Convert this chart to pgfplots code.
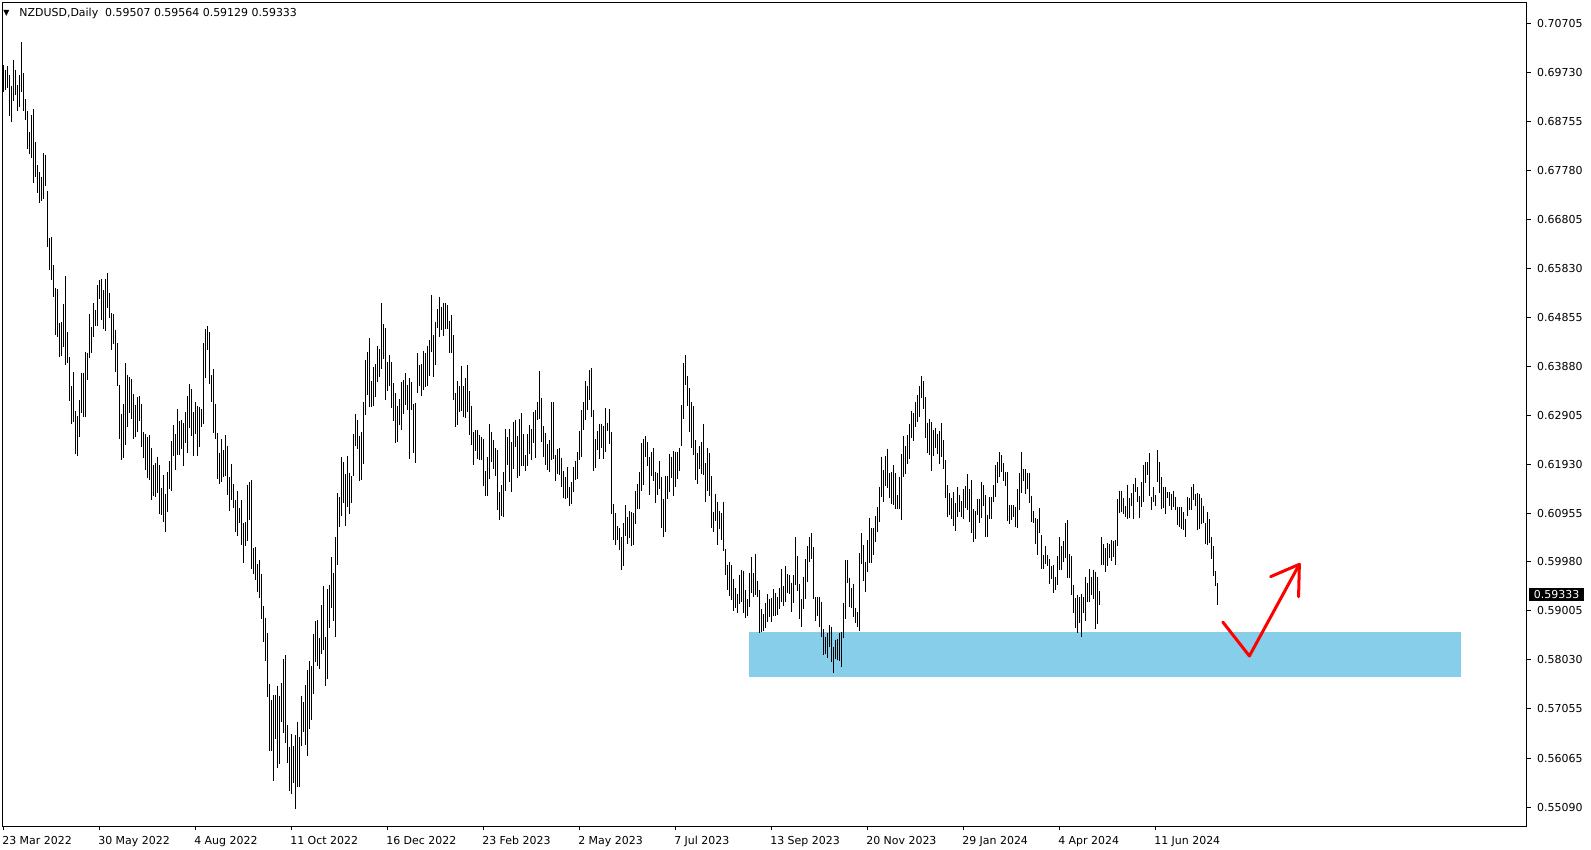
\documentclass[border=0pt]{standalone}
\usepackage{fontspec}
\setmainfont{DejaVu Sans}
\usepackage{pgfplots}
\usepackage{pgfplotstable}
\pgfplotsset{compat=1.18}
\definecolor{zone}{HTML}{87CEEB}
\pgfplotstableread{
h l
0.6989 0.6934
0.6979 0.6939
0.6987 0.6942
0.6969 0.6887
0.6947 0.6876
0.6999 0.6917
0.6979 0.6928
0.6949 0.6896
0.6969 0.6904
0.7034 0.6934
0.6972 0.6896
0.6920 0.6880
0.6897 0.6821
0.6856 0.6811
0.6889 0.6804
0.6901 0.6754
0.6835 0.6766
0.6789 0.6733
0.6775 0.6714
0.6766 0.6718
0.6813 0.6721
0.6809 0.6748
0.6738 0.6625
0.6643 0.6581
0.6645 0.6560
0.6590 0.6527
0.6544 0.6451
0.6542 0.6447
0.6475 0.6407
0.6477 0.6409
0.6512 0.6427
0.6568 0.6391
0.6456 0.6394
0.6407 0.6318
0.6348 0.6273
0.6377 0.6278
0.6298 0.6213
0.6289 0.6209
0.6321 0.6247
0.6375 0.6294
0.6374 0.6288
0.6417 0.6288
0.6415 0.6361
0.6492 0.6404
0.6467 0.6414
0.6514 0.6446
0.6500 0.6468
0.6550 0.6468
0.6560 0.6522
0.6563 0.6480
0.6540 0.6462
0.6563 0.6459
0.6575 0.6504
0.6535 0.6484
0.6494 0.6421
0.6492 0.6432
0.6461 0.6377
0.6434 0.6348
0.6351 0.6244
0.6293 0.6201
0.6313 0.6205
0.6394 0.6231
0.6371 0.6268
0.6367 0.6294
0.6362 0.6284
0.6333 0.6243
0.6311 0.6248
0.6326 0.6258
0.6328 0.6280
0.6313 0.6228
0.6258 0.6205
0.6254 0.6181
0.6248 0.6165
0.6251 0.6161
0.6225 0.6122
0.6191 0.6130
0.6195 0.6128
0.6208 0.6135
0.6191 0.6094
0.6145 0.6092
0.6171 0.6078
0.6134 0.6058
0.6178 0.6097
0.6199 0.6143
0.6239 0.6140
0.6271 0.6209
0.6253 0.6181
0.6303 0.6211
0.6279 0.6211
0.6281 0.6223
0.6276 0.6190
0.6296 0.6235
0.6329 0.6216
0.6353 0.6266
0.6342 0.6249
0.6296 0.6210
0.6316 0.6253
0.6309 0.6210
0.6306 0.6228
0.6302 0.6268
0.6435 0.6274
0.6462 0.6364
0.6468 0.6421
0.6456 0.6353
0.6371 0.6316
0.6383 0.6256
0.6313 0.6243
0.6256 0.6163
0.6216 0.6153
0.6243 0.6158
0.6221 0.6168
0.6251 0.6169
0.6230 0.6132
0.6168 0.6100
0.6193 0.6122
0.6153 0.6105
0.6122 0.6058
0.6140 0.6049
0.6105 0.6076
0.6122 0.6032
0.6076 0.5995
0.6078 0.6029
0.6152 0.6039
0.6157 0.6082
0.6161 0.5985
0.6025 0.5975
0.6027 0.5963
0.5994 0.5938
0.6002 0.5927
0.5975 0.5884
0.5910 0.5839
0.5887 0.5801
0.5857 0.5728
0.5755 0.5622
0.5723 0.5622
0.5733 0.5562
0.5733 0.5646
0.5751 0.5588
0.5731 0.5595
0.5756 0.5680
0.5805 0.5658
0.5813 0.5638
0.5673 0.5597
0.5630 0.5542
0.5655 0.5535
0.5632 0.5558
0.5653 0.5505
0.5680 0.5549
0.5650 0.5549
0.5731 0.5631
0.5718 0.5660
0.5753 0.5633
0.5783 0.5611
0.5801 0.5666
0.5791 0.5683
0.5854 0.5735
0.5880 0.5798
0.5882 0.5791
0.5846 0.5785
0.5912 0.5814
0.5951 0.5823
0.5849 0.5751
0.5944 0.5765
0.5953 0.5867
0.6007 0.5906
0.5977 0.5881
0.6047 0.5849
0.6135 0.5991
0.6128 0.6067
0.6208 0.6090
0.6198 0.6116
0.6173 0.6070
0.6210 0.6107
0.6176 0.6093
0.6169 0.6115
0.6253 0.6169
0.6292 0.6230
0.6281 0.6223
0.6250 0.6160
0.6258 0.6161
0.6316 0.6193
0.6401 0.6290
0.6417 0.6331
0.6444 0.6306
0.6359 0.6306
0.6387 0.6308
0.6392 0.6326
0.6429 0.6356
0.6423 0.6366
0.6515 0.6383
0.6472 0.6402
0.6465 0.6321
0.6397 0.6338
0.6411 0.6348
0.6397 0.6304
0.6354 0.6280
0.6334 0.6235
0.6309 0.6237
0.6322 0.6272
0.6357 0.6261
0.6361 0.6293
0.6375 0.6311
0.6350 0.6301
0.6364 0.6203
0.6356 0.6300
0.6313 0.6216
0.6314 0.6196
0.6414 0.6334
0.6391 0.6348
0.6392 0.6329
0.6419 0.6340
0.6415 0.6346
0.6429 0.6348
0.6441 0.6369
0.6530 0.6416
0.6451 0.6366
0.6477 0.6391
0.6502 0.6464
0.6527 0.6447
0.6506 0.6460
0.6515 0.6449
0.6514 0.6462
0.6510 0.6462
0.6479 0.6414
0.6490 0.6415
0.6450 0.6321
0.6334 0.6268
0.6359 0.6271
0.6349 0.6296
0.6389 0.6298
0.6348 0.6288
0.6364 0.6286
0.6391 0.6296
0.6338 0.6251
0.6309 0.6231
0.6258 0.6191
0.6261 0.6219
0.6261 0.6203
0.6251 0.6201
0.6248 0.6201
0.6243 0.6150
0.6180 0.6130
0.6207 0.6130
0.6274 0.6163
0.6258 0.6197
0.6241 0.6183
0.6226 0.6170
0.6221 0.6102
0.6138 0.6082
0.6151 0.6090
0.6177 0.6088
0.6263 0.6140
0.6247 0.6191
0.6264 0.6157
0.6237 0.6138
0.6278 0.6183
0.6281 0.6227
0.6249 0.6166
0.6283 0.6169
0.6294 0.6190
0.6253 0.6189
0.6211 0.6180
0.6254 0.6190
0.6271 0.6213
0.6264 0.6201
0.6297 0.6236
0.6300 0.6206
0.6316 0.6282
0.6379 0.6283
0.6324 0.6238
0.6269 0.6207
0.6256 0.6191
0.6233 0.6181
0.6241 0.6178
0.6316 0.6201
0.6316 0.6203
0.6211 0.6160
0.6223 0.6173
0.6226 0.6171
0.6206 0.6147
0.6180 0.6125
0.6168 0.6124
0.6188 0.6125
0.6148 0.6110
0.6158 0.6113
0.6188 0.6138
0.6200 0.6161
0.6218 0.6163
0.6260 0.6201
0.6300 0.6207
0.6316 0.6261
0.6359 0.6281
0.6349 0.6301
0.6381 0.6320
0.6384 0.6288
0.6301 0.6180
0.6243 0.6186
0.6260 0.6221
0.6273 0.6203
0.6273 0.6225
0.6269 0.6203
0.6304 0.6218
0.6276 0.6260
0.6302 0.6233
0.6258 0.6094
0.6114 0.6042
0.6095 0.6031
0.6070 0.6041
0.6065 0.6022
0.6048 0.5982
0.6076 0.5989
0.6112 0.6050
0.6088 0.6034
0.6100 0.6045
0.6098 0.6029
0.6096 0.6032
0.6140 0.6074
0.6153 0.6103
0.6178 0.6104
0.6236 0.6140
0.6243 0.6151
0.6249 0.6207
0.6238 0.6189
0.6207 0.6132
0.6218 0.6169
0.6225 0.6159
0.6178 0.6115
0.6176 0.6132
0.6200 0.6143
0.6168 0.6066
0.6123 0.6048
0.6170 0.6058
0.6169 0.6124
0.6213 0.6138
0.6208 0.6166
0.6220 0.6130
0.6217 0.6148
0.6218 0.6163
0.6226 0.6179
0.6310 0.6230
0.6395 0.6284
0.6411 0.6350
0.6369 0.6308
0.6344 0.6258
0.6316 0.6225
0.6308 0.6211
0.6241 0.6161
0.6216 0.6153
0.6230 0.6183
0.6237 0.6173
0.6273 0.6171
0.6195 0.6118
0.6226 0.6140
0.6216 0.6130
0.6169 0.6065
0.6098 0.6058
0.6134 0.6080
0.6118 0.6032
0.6100 0.6063
0.6095 0.6042
0.6118 0.6019
0.6024 0.5972
0.5992 0.5942
0.5997 0.5931
0.5992 0.5922
0.5965 0.5901
0.5947 0.5907
0.5934 0.5896
0.5972 0.5914
0.5983 0.5918
0.5981 0.5897
0.5942 0.5886
0.5924 0.5890
0.5977 0.5909
0.6007 0.5937
0.5977 0.5929
0.6014 0.5932
0.5961 0.5929
0.5942 0.5857
0.5904 0.5858
0.5894 0.5861
0.5917 0.5867
0.5934 0.5879
0.5924 0.5888
0.5927 0.5879
0.5944 0.5890
0.5937 0.5891
0.5929 0.5892
0.5947 0.5904
0.5984 0.5919
0.5950 0.5911
0.5989 0.5918
0.5974 0.5937
0.5972 0.5934
0.5957 0.5898
0.5972 0.5916
0.6048 0.5952
0.6009 0.5941
0.5955 0.5884
0.5924 0.5869
0.5969 0.5904
0.6004 0.5924
0.6029 0.5959
0.6048 0.5997
0.6056 0.6004
0.6027 0.5924
0.5928 0.5881
0.5928 0.5890
0.5928 0.5869
0.5919 0.5849
0.5864 0.5813
0.5849 0.5815
0.5857 0.5806
0.5872 0.5828
0.5869 0.5799
0.5829 0.5776
0.5842 0.5804
0.5844 0.5803
0.5857 0.5801
0.5859 0.5788
0.5917 0.5846
0.6001 0.5884
0.6002 0.5957
0.5967 0.5909
0.5947 0.5906
0.5954 0.5889
0.5906 0.5876
0.5899 0.5869
0.6015 0.5861
0.6055 0.5994
0.6031 0.5961
0.5997 0.5939
0.6042 0.5979
0.6086 0.5995
0.6065 0.5995
0.6066 0.6012
0.6090 0.6038
0.6108 0.6058
0.6148 0.6078
0.6208 0.6128
0.6181 0.6118
0.6209 0.6149
0.6224 0.6145
0.6175 0.6125
0.6177 0.6113
0.6191 0.6112
0.6175 0.6103
0.6132 0.6103
0.6168 0.6103
0.6213 0.6082
0.6249 0.6168
0.6229 0.6173
0.6251 0.6193
0.6273 0.6203
0.6299 0.6246
0.6294 0.6239
0.6316 0.6268
0.6331 0.6278
0.6349 0.6288
0.6369 0.6324
0.6359 0.6303
0.6326 0.6246
0.6276 0.6216
0.6284 0.6211
0.6278 0.6180
0.6261 0.6209
0.6266 0.6225
0.6253 0.6213
0.6259 0.6193
0.6276 0.6208
0.6241 0.6183
0.6201 0.6125
0.6151 0.6087
0.6136 0.6092
0.6126 0.6083
0.6137 0.6070
0.6116 0.6060
0.6148 0.6087
0.6132 0.6098
0.6120 0.6087
0.6143 0.6084
0.6149 0.6106
0.6173 0.6102
0.6143 0.6078
0.6161 0.6056
0.6104 0.6037
0.6100 0.6044
0.6124 0.6092
0.6123 0.6076
0.6157 0.6085
0.6151 0.6110
0.6132 0.6048
0.6092 0.6048
0.6128 0.6083
0.6127 0.6083
0.6151 0.6117
0.6191 0.6128
0.6198 0.6156
0.6217 0.6168
0.6211 0.6178
0.6195 0.6160
0.6177 0.6149
0.6178 0.6080
0.6112 0.6074
0.6112 0.6082
0.6112 0.6087
0.6108 0.6067
0.6143 0.6066
0.6176 0.6102
0.6217 0.6135
0.6183 0.6160
0.6183 0.6134
0.6175 0.6143
0.6176 0.6116
0.6130 0.6077
0.6100 0.6075
0.6085 0.6033
0.6083 0.6012
0.6106 0.6055
0.6052 0.5984
0.6012 0.5985
0.6030 0.5994
0.6012 0.5989
0.6004 0.5954
0.5989 0.5965
0.5992 0.5937
0.5969 0.5942
0.6010 0.5952
0.6047 0.5983
0.6030 0.5982
0.6039 0.5997
0.6076 0.6005
0.6082 0.5967
0.6013 0.5967
0.6009 0.5932
0.5953 0.5897
0.5926 0.5866
0.5932 0.5857
0.5929 0.5877
0.5934 0.5849
0.5929 0.5897
0.5969 0.5881
0.5957 0.5919
0.5984 0.5919
0.5969 0.5932
0.5983 0.5924
0.5979 0.5864
0.5969 0.5874
0.5940 0.5912
0.6047 0.5992
0.6033 0.5992
0.6025 0.5979
0.6035 0.5989
0.6034 0.6005
0.6042 0.5999
0.6040 0.6007
0.6041 0.5992
0.6124 0.6030
0.6140 0.6095
0.6140 0.6098
0.6125 0.6093
0.6110 0.6088
0.6152 0.6083
0.6125 0.6086
0.6136 0.6110
0.6153 0.6083
0.6166 0.6137
0.6147 0.6118
0.6130 0.6086
0.6158 0.6108
0.6191 0.6118
0.6198 0.6155
0.6197 0.6171
0.6215 0.6130
0.6128 0.6102
0.6148 0.6117
0.6132 0.6110
0.6221 0.6158
0.6197 0.6135
0.6168 0.6104
0.6147 0.6105
0.6147 0.6094
0.6138 0.6126
0.6138 0.6110
0.6133 0.6102
0.6140 0.6108
0.6128 0.6102
0.6107 0.6072
0.6107 0.6067
0.6108 0.6063
0.6098 0.6062
0.6083 0.6047
0.6128 0.6090
0.6125 0.6102
0.6148 0.6102
0.6154 0.6122
0.6133 0.6110
0.6135 0.6062
0.6133 0.6063
0.6125 0.6074
0.6110 0.6075
0.6076 0.6034
0.6098 0.6032
0.6083 0.6035
0.6047 0.6003
0.6029 0.5971
0.5980 0.5950
0.59564 0.59129
}\bars
\begin{document}
\begin{tikzpicture}
\begin{axis}[
  at={(0,0)}, anchor=south west,
  scale only axis, width=1524.7bp, height=823.3bp,
  xmin=-0.65, xmax=761.7, ymin=0.54717, ymax=0.71129,
  clip=false,
  axis line style={black, line width=1bp},
  tick style={black, line width=1bp},
  tick align=outside, major tick length=4bp,
  xtick={0,48,...,576},
  xticklabels={23 Mar 2022,30 May 2022,4 Aug 2022,11 Oct 2022,16 Dec 2022,23 Feb 2023,2 May 2023,7 Jul 2023,13 Sep 2023,20 Nov 2023,29 Jan 2024,4 Apr 2024,11 Jun 2024},
  xtick pos=left, xticklabel pos=left,
  ytick={0.70705,0.69730,0.68755,0.67780,0.66805,0.65830,0.64855,0.63880,0.62905,0.61930,0.60955,0.59980,0.59005,0.58030,0.57055,0.56065,0.55090},
  yticklabels={0.70705,0.69730,0.68755,0.67780,0.66805,0.65830,0.64855,0.63880,0.62905,0.61930,0.60955,0.59980,0.59005,0.58030,0.57055,0.56065,0.55090},
  ytick pos=right, yticklabel pos=right,
  xticklabel style={anchor=north west, inner sep=0pt, xshift=-1.5bp, yshift=-6bp, font=\fontsize{11}{13}\selectfont},
  yticklabel style={anchor=west, inner sep=0pt, xshift=6bp, font=\fontsize{11}{13}\selectfont},
]
\addplot[fill=zone, draw=none] coordinates {(372.7,0.57687) (728.7,0.57687) (728.7,0.58584) (372.7,0.58584)} -- cycle;
\addplot[draw=none, no markers,
  error bars/.cd, y dir=minus, y explicit, error mark=none,
  error bar style={draw=black, line width=1bp}]
  table[x expr=\coordindex, y=h, y error minus expr={\thisrow{h}-\thisrow{l}}] {\bars};
\addplot[red, line width=3bp, line join=round, line cap=round] coordinates {(609.6,0.58783) (622.9,0.58106) (647.9,0.59934)};
\addplot[red, line width=3bp, line join=round, line cap=round] coordinates {(633.5,0.59687) (647.9,0.59934) (647.5,0.59288)};
\node[anchor=west, fill=black, text=white, inner xsep=4.75bp, inner ysep=0pt, minimum height=12.4bp, xshift=2bp, font=\fontsize{11}{13}\selectfont] at (axis cs:761.7,0.59333) {0.59333};
\end{axis}
\node[anchor=base west, inner sep=0pt, font=\fontsize{8}{8}\selectfont] at (1bp,810.5bp) {▼};
\node[anchor=base west, inner sep=0pt, font=\fontsize{11}{13}\selectfont] at (17bp,809.6bp) {NZDUSD,Daily\ \ 0.59507 0.59564 0.59129 0.59333};
\pgfresetboundingbox
\path[use as bounding box] (-2.3bp,-24bp) rectangle (1588.7bp,826bp);
\end{tikzpicture}
\end{document}
